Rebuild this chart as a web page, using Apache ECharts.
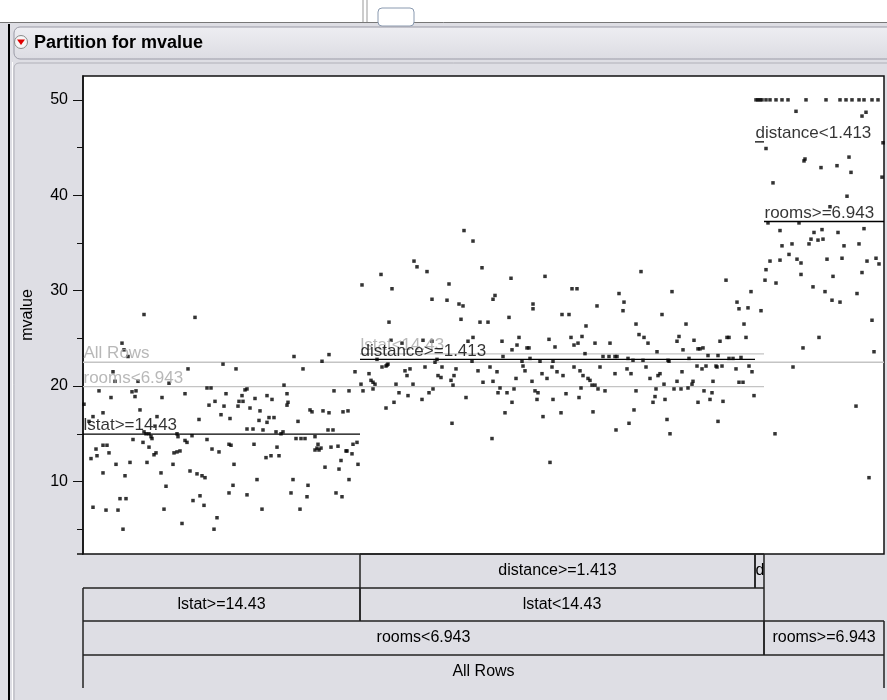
<!DOCTYPE html>
<html>
<head>
<meta charset="utf-8">
<script src="https://cdn.jsdelivr.net/npm/echarts@6/dist/echarts.min.js"></script>
<style>
html,body{margin:0;padding:0;background:#dedee4;}
#main{width:887px;height:700px;}
</style>
</head>
<body>
<div id="main"></div>
<script>
// x = position inside the partition strip (0..801), y = mvalue
var pointsLstatHi = [[39,24.5],[41,23.8],[211,23.1],[246,23.3],[239,22.6],[140,22.3],[153,21.8],[220,21.8],[105,21.8],[30,21.5],[32,20.5],[55,20.5],[86,20.3],[201,20.1],[16,19.5],[49,19.4],[53,19.5],[52,18.9],[102,19.2],[124,19.8],[128,19.8],[143,19.2],[162,19.6],[164,19.7],[159,19.0],[251,19.5],[266,19.5],[204,19.2],[1,18.1],[28,18.8],[79,18.8],[184,19.0],[189,18.6],[172,18.7],[126,18.0],[132,18.4],[141,17.9],[155,17.9],[156,18.4],[160,18.4],[167,17.7],[204,18.0],[205,18.3],[57,17.5],[227,17.5],[229,17.3],[240,17.4],[246,17.2],[260,17.3],[265,17.4],[177,17.4],[138,17.0],[147,16.6],[20,17.2],[10,16.8],[6,16.3],[74,16.8],[116,16.5],[176,16.4],[184,16.2],[186,16.7],[191,16.7],[215,16.3],[72,15.8],[164,15.5],[170,15.5],[180,15.4],[245,15.4],[250,15.4],[193,15.2],[198,15.0],[200,15.2],[61,15.2],[63,15.0],[66,15.0],[68,14.7],[94,15.0],[95,14.7],[109,14.8],[69,14.5],[50,14.4],[60,14.1],[66,13.6],[102,14.3],[104,14.1],[124,14.4],[213,14.5],[218,14.5],[222,14.5],[232,14.7],[234,13.5],[235,13.9],[238,13.5],[236,13.3],[232,13.3],[248,13.6],[255,13.7],[263,13.2],[270,13.9],[274,14.1],[20,13.8],[24,13.8],[13,13.4],[26,13.0],[8,12.4],[14,12.7],[33,11.8],[47,12.0],[64,12.0],[71,12.8],[73,13.0],[91,13.0],[94,13.1],[97,13.2],[129,13.4],[136,13.1],[146,13.9],[148,13.8],[171,13.9],[183,12.5],[188,12.7],[194,13.6],[196,12.7],[258,12.2],[269,12.9],[275,11.8],[264,13.2],[90,11.8],[151,11.8],[242,11.5],[256,11.3],[20,10.9],[42,10.6],[78,10.9],[107,11.1],[114,10.8],[119,10.6],[122,10.4],[174,10.2],[210,10.2],[266,10.2],[83,9.5],[150,9.6],[225,9.6],[146,8.8],[164,8.6],[208,8.8],[224,8.4],[253,8.8],[259,8.4],[37,8.2],[43,8.2],[117,8.5],[110,8.0],[121,7.5],[10,7.3],[23,7.0],[35,7.0],[81,7.1],[179,7.1],[217,7.1],[134,6.2],[99,5.6],[40,5.0],[131,5.0],[61,27.5],[112,27.2],[45,23.1],[272,21.5]];

var pointsDistHi = [[381,36.3],[390,35.2],[331,33.1],[334,32.5],[344,32.0],[399,32.4],[298,31.7],[428,31.3],[462,31.5],[558,32.0],[643,31.1],[279,30.6],[309,30.2],[366,30.7],[489,30.2],[494,30.2],[536,29.7],[589,29.9],[668,29.9],[349,29.1],[364,29.0],[376,28.6],[380,28.4],[410,29.1],[412,29.5],[450,28.6],[450,28.1],[541,28.8],[514,28.4],[654,28.8],[656,28.1],[665,28.2],[540,27.9],[378,27.0],[479,27.5],[486,27.5],[426,27.2],[579,27.5],[306,26.7],[397,26.7],[405,26.7],[553,26.5],[603,26.5],[661,26.5],[503,26.3],[556,25.4],[561,25.1],[565,24.5],[596,25.2],[594,24.7],[611,24.8],[615,23.9],[617,23.9],[620,24.0],[637,24.7],[644,25.1],[646,25.1],[663,25.1],[308,24.8],[319,24.5],[340,24.8],[349,24.7],[390,25.1],[385,24.7],[419,24.7],[436,25.1],[434,24.3],[429,23.8],[444,24.0],[446,24.0],[466,24.9],[472,24.1],[488,25.1],[491,24.3],[495,24.5],[499,25.2],[512,24.5],[527,24.5],[574,23.6],[600,23.8],[650,22.9],[658,23.0],[420,23.1],[502,23.4],[520,23.1],[526,23.1],[532,23.1],[534,23.1],[545,22.9],[550,22.7],[560,22.7],[585,22.7],[606,22.9],[625,23.2],[635,23.2],[646,22.9],[457,22.6],[470,22.6],[447,22.9],[439,22.6],[389,22.6],[352,22.5],[354,22.8],[294,22.8],[303,22.1],[305,22.3],[327,21.8],[322,21.6],[324,21.1],[342,22.0],[359,22.0],[355,21.1],[358,20.9],[373,21.8],[371,21.1],[368,20.6],[370,20.1],[395,21.6],[407,22.0],[414,21.5],[410,20.5],[400,20.4],[440,22.1],[442,21.6],[433,20.8],[449,20.5],[459,21.3],[464,20.8],[469,22.0],[474,21.5],[480,21.1],[491,22.0],[497,21.6],[500,21.1],[505,20.8],[507,20.6],[509,20.1],[512,20.1],[517,22.0],[532,21.3],[544,21.8],[548,21.3],[563,22.0],[567,20.8],[575,21.1],[577,21.3],[581,20.2],[586,22.6],[599,21.5],[594,20.5],[614,22.1],[619,21.8],[623,22.1],[630,20.5],[633,22.1],[634,22.0],[639,22.1],[653,21.8],[656,20.4],[660,20.4],[666,22.1],[669,21.5],[671,19.0],[278,20.2],[280,19.5],[286,21.3],[288,20.6],[290,20.4],[290,19.7],[292,20.2],[299,22.0],[304,22.2],[303,17.7],[311,18.3],[313,20.2],[316,19.3],[325,19.0],[330,20.2],[339,18.6],[346,19.3],[350,19.7],[369,16.1],[383,18.8],[409,14.5],[415,19.3],[417,19.8],[422,17.2],[424,19.3],[429,18.3],[431,19.7],[452,19.5],[455,19.3],[454,18.6],[460,16.8],[470,18.6],[478,17.2],[483,19.2],[496,18.8],[498,19.8],[510,17.3],[515,19.7],[522,19.5],[533,15.4],[546,16.1],[551,17.5],[553,19.5],[570,18.3],[572,18.9],[573,19.7],[582,18.6],[584,16.5],[587,15.0],[591,19.7],[598,19.7],[605,19.8],[609,20.2],[610,20.5],[615,18.3],[621,19.5],[627,18.6],[629,19.3],[635,16.3],[640,18.4],[467,12.0]];

var pointsDistLo = [[673,50],[675,50],[677,50],[679,50],[678,27.9]];

var pointsRoomsHi = [[683,50],[687,50],[693,50],[699,50],[705,50],[723,50],[743,50],[757,50],[763,50],[769,50],[776,50],[781,50],[789,50],[795,50],[713,48.8],[779,48.3],[783,48.7],[800,45.5],[683,44.9],[722,43.8],[721,43.6],[738,42.9],[754,43.1],[766,44.0],[768,42.4],[799,41.9],[690,41.3],[764,39.9],[747,38.8],[685,37.1],[716,37.1],[697,36.3],[739,36.4],[731,36.1],[728,35.4],[735,35.3],[740,35.4],[726,34.9],[755,36.1],[781,36.5],[699,34.7],[709,34.9],[761,34.7],[776,34.9],[706,33.8],[714,33.3],[718,32.9],[687,33.1],[697,33.2],[744,33.3],[759,33.4],[784,33.1],[793,33.4],[796,32.8],[683,32.2],[718,31.7],[779,31.9],[682,31.1],[693,30.8],[750,31.5],[730,30.4],[742,29.9],[774,29.7],[749,29.0],[757,28.8],[789,26.9],[736,25.1],[720,24.0],[791,23.6],[710,22.0],[773,17.9],[692,15.0],[786,10.4]];

// partition splits: label, strip from, strip to, mean, leaf?
var splitNames = ['All Rows', 'rooms<6.943', 'rooms>=6.943', 'lstat>=14.43', 'lstat<14.43', 'distance>=1.413', 'distance<1.413'];
var splitFrom  = [0, 0, 681, 0, 277, 277, 672];
var splitTo    = [801, 681, 801, 277, 681, 672, 681];
var splitMean  = [22.5, 19.95, 37.25, 14.96, 23.37, 22.8, 45.6];
var splitLeaf  = [false, false, true, true, false, true, true];

// tree rows under the plot, top row first
var treeRows = [
    [['distance>=1.413', 277, 672], ['distance<1.413', 672, 681]],
    [['lstat>=14.43', 0, 277], ['lstat<14.43', 277, 681]],
    [['rooms<6.943', 0, 681], ['rooms>=6.943', 681, 801]],
    [['All Rows', 0, 801]]
];

var yMajor = [10, 20, 30, 40, 50];
var yMinor = [5, 15, 25, 35, 45];

var FONT = '"Liberation Sans", Arial, sans-serif';
var chart = echarts.init(document.getElementById('main'));

var series = [];
[pointsLstatHi, pointsDistHi, pointsDistLo, pointsRoomsHi].forEach(function (pts) {
    series.push({
        type: 'scatter', data: pts, symbol: 'rect', symbolSize: 3.5,
        itemStyle: {color: '#000'}, silent: true, z: 4
    });
});
for (var i = 0; i < splitNames.length; i++) {
    series.push({
        type: 'line', silent: true, showSymbol: false, z: 3,
        data: [[splitFrom[i], splitMean[i]], [splitTo[i], splitMean[i]]],
        lineStyle: {color: splitLeaf[i] ? '#000' : '#c4c4c4', width: 1.3}
    });
}
series.push({
    type: 'scatter', silent: true, symbolSize: 1, z: 5,
    itemStyle: {color: 'transparent'},
    data: splitNames.map(function (n, i) {
        return {
            value: [splitFrom[i], splitMean[i]],
            label: {
                show: true, formatter: n, position: [1, 1], align: 'left', verticalAlign: 'bottom',
                fontFamily: FONT, fontSize: 17, lineHeight: 18,
                color: splitLeaf[i] ? '#000' : '#a6a6a6'
            }
        };
    })
});

chart.setOption({
    animation: false,
    grid: {
        left: 83, top: 76, width: 801, height: 478, show: true,
        backgroundColor: '#fff', borderColor: '#111', borderWidth: 1.5
    },
    xAxis: {type: 'value', min: 0, max: 801, show: false},
    yAxis: [{
        type: 'value', min: 2.4, max: 52.5, position: 'left',
        name: 'mvalue', nameLocation: 'middle', nameRotate: 90, nameGap: 47,
        nameTextStyle: {fontFamily: FONT, fontSize: 16, color: '#000'},
        axisLine: {show: true, lineStyle: {color: '#111', width: 1.5}},
        axisTick: {show: true, customValues: yMajor, length: 10, lineStyle: {color: '#111'}},
        axisLabel: {customValues: yMajor, margin: 15, fontFamily: FONT, fontSize: 16, color: '#000'},
        splitLine: {show: false}
    }, {
        type: 'value', min: 2.4, max: 52.5, position: 'left', offset: 0,
        axisLine: {show: false},
        axisTick: {show: true, customValues: yMinor, length: 6, lineStyle: {color: '#111'}},
        axisLabel: {show: false},
        splitLine: {show: false}
    }],
    series: series
});

// window chrome + tree boxes
var g = [];
g.push({type: 'rect', shape: {x: 0, y: 0, width: 887, height: 22}, style: {fill: '#fff'}, z: -10});
g.push({type: 'line', shape: {x1: 0, y1: 22.5, x2: 887, y2: 22.5}, style: {stroke: '#777', lineWidth: 1}});
g.push({type: 'line', shape: {x1: 363, y1: 0, x2: 363, y2: 22}, style: {stroke: '#999'}});
g.push({type: 'line', shape: {x1: 367, y1: 0, x2: 367, y2: 22}, style: {stroke: '#999'}});
g.push({type: 'rect', shape: {x: 378, y: 8, width: 36, height: 18, r: 4}, style: {fill: '#fff', stroke: '#8a9ab0'}});
g.push({type: 'line', shape: {x1: 9, y1: 24, x2: 9, y2: 700}, style: {stroke: '#000', lineWidth: 2}});
g.push({type: 'line', shape: {x1: 12.5, y1: 62, x2: 12.5, y2: 700}, style: {stroke: '#fff', lineWidth: 1}});
g.push({
    type: 'rect', shape: {x: 14, y: 27, width: 890, height: 32, r: 6},
    style: {
        fill: new echarts.graphic.LinearGradient(0, 0, 0, 1, [{offset: 0, color: '#eeeef2'}, {offset: 1, color: '#dcdce2'}]),
        stroke: '#9a9aa6', lineWidth: 1
    }
});
g.push({type: 'rect', shape: {x: 14, y: 63, width: 890, height: 660, r: 5}, style: {fill: 'none', stroke: '#b0b0b8', lineWidth: 1}});
g.push({type: 'circle', shape: {cx: 21, cy: 42, r: 6.5}, style: {fill: '#f6f6f6', stroke: '#8a8a8a'}});
g.push({type: 'polygon', shape: {points: [[17, 39.5], [25, 39.5], [21, 45]]}, style: {fill: '#e00000'}});
g.push({type: 'text', x: 34, y: 43, style: {text: 'Partition for mvalue', fontFamily: FONT, fontWeight: 'bold', fontSize: 18, fill: '#000', verticalAlign: 'middle'}});
g.push({type: 'line', shape: {x1: 77, y1: 554, x2: 83, y2: 554}, style: {stroke: '#111', lineWidth: 1.5}});

var rowTop = [554, 588, 621, 655];
var rowH = [34, 33, 34, 33];
var px = function (v) { return chart.convertToPixel({xAxisIndex: 0}, v); };
treeRows.forEach(function (row, r) {
    var y0 = rowTop[r], y1 = y0 + rowH[r];
    row.forEach(function (cell) {
        var a = px(cell[1]), b = px(cell[2]);
        g.push({type: 'line', shape: {x1: a, y1: y0, x2: b, y2: y0}, style: {stroke: '#222', lineWidth: 1.5}});
        g.push({type: 'line', shape: {x1: a, y1: y0, x2: a, y2: y1}, style: {stroke: '#222', lineWidth: 1.5}});
        g.push({type: 'line', shape: {x1: b, y1: y0, x2: b, y2: y1}, style: {stroke: '#222', lineWidth: 1.5}});
        var w = b - a;
        if (w < 20) {
            // narrow cell: only the first letter of the label fits
            g.push({type: 'text', x: a + 0.5, y: (y0 + y1) / 2, style: {
                text: cell[0].charAt(0), fontFamily: FONT, fontSize: 16, fill: '#000', verticalAlign: 'middle'}});
        } else {
            g.push({type: 'text', x: (a + b) / 2, y: (y0 + y1) / 2, style: {
                text: cell[0], fontFamily: FONT, fontSize: 16, fill: '#000',
                align: 'center', verticalAlign: 'middle'}});
        }
    });
});
chart.setOption({graphic: g});
</script>
</body>
</html>
